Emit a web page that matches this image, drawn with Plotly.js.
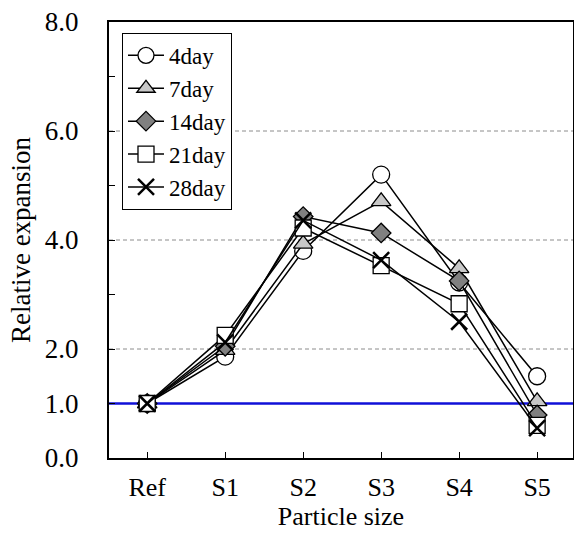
<!DOCTYPE html>
<html><head><meta charset="utf-8">
<script src="https://cdn.plot.ly/plotly-3.0.1.min.js"></script>
<style>html,body{margin:0;padding:0;background:#fff}#chart{width:574px;height:533px}</style>
</head><body><div id="chart"></div>
<script>
const categories = ["Ref","S1","S2","S3","S4","S5"];
const seriesNames = ["4day","7day","14day","21day","28day"];
const day4  = [1.0, 1.86, 3.80, 5.20, 3.22, 1.50];
const day7  = [1.0, 1.98, 3.93, 4.71, 3.48, 1.04];
const day14 = [1.0, 2.05, 4.43, 4.13, 3.25, 0.79];
const day21 = [1.0, 2.25, 4.22, 3.53, 2.83, 0.60];
const day28 = [1.0, 2.12, 4.36, 3.63, 2.50, 0.55];
const yTickVals = [0,1,2,3,4,5,6,7,8];
const yTickText = ["0.0","1.0","2.0","","4.0","","6.0","","8.0"];
const gridLevels = [2,4,6];
const refLevel = 1;

const FONT = "Liberation Serif, Times New Roman, serif";
const styles = [
  {symbol:"circle", size:17, color:"#ffffff"},
  {symbol:"triangle-up", size:17, color:"#c8c8c8"},
  {symbol:"diamond", size:15, color:"#808080"},
  {symbol:"square", size:16, color:"#ffffff"},
  {symbol:"x-thin", size:16, color:"#000000"}
];
const data = [day4, day7, day14, day21, day28].map((vals, i) => ({
  type: "scatter", mode: "lines+markers",
  x: categories, y: vals, name: seriesNames[i],
  line: {color: "#000", width: 1.5},
  marker: {symbol: styles[i].symbol, size: styles[i].size, color: styles[i].color,
           line: {color: "#000", width: i === 4 ? 2.5 : 1.3}}
}));

const shapes = gridLevels.map(v => ({
  type: "line", xref: "paper", x0: 0, x1: 1, yref: "y", y0: v, y1: v,
  line: {color: "#8c8c8c", width: 1, dash: "4px,3px"}, layer: "below"
}));
shapes.push({type: "line", xref: "paper", x0: 0, x1: 1, yref: "y", y0: refLevel, y1: refLevel,
  line: {color: "#1010d8", width: 2.5}, layer: "below"});

const layout = {
  width: 574, height: 533,
  margin: {l: 109, r: 1, t: 22, b: 75},
  paper_bgcolor: "#fff", plot_bgcolor: "#fff",
  font: {family: FONT, size: 27, color: "#000"},
  showlegend: true,
  legend: {x: 0.028, y: 0.975, xanchor: "left", yanchor: "top",
           bordercolor: "#000", borderwidth: 1, bgcolor: "#fff",
           font: {family: FONT, size: 23}, tracegroupgap: 0, itemwidth: 36},
  xaxis: {
    type: "category", range: [-0.49, 5.46],
    showline: true, linecolor: "#000", linewidth: 2, mirror: true,
    ticks: "inside", ticklen: 6, tickcolor: "#000", tickwidth: 1,
    showgrid: false, zeroline: false,
    tickfont: {family: FONT, size: 26},
    ticklabelstandoff: 5,
    title: {text: "Particle size", font: {family: FONT, size: 26}, standoff: 4}
  },
  yaxis: {
    range: [0, 8], tickmode: "array", tickvals: yTickVals, ticktext: yTickText,
    showline: true, linecolor: "#000", linewidth: 2, mirror: true,
    ticks: "inside", ticklen: 6, tickcolor: "#000", tickwidth: 1,
    showgrid: false, zeroline: false,
    ticklabelstandoff: 23,
    title: {text: "Relative expansion", font: {family: FONT, size: 27}, standoff: 6}
  },
  shapes: shapes
};
Plotly.newPlot("chart", data, layout, {staticPlot: true, displayModeBar: false});
</script></body></html>
